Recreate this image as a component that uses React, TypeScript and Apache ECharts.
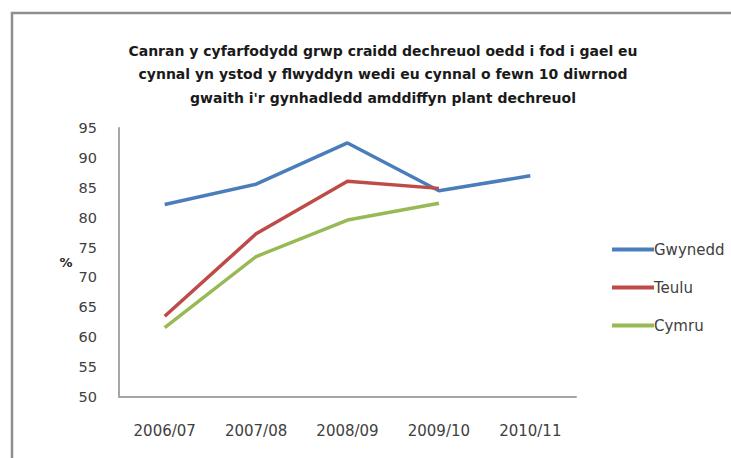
import React, { useEffect, useRef } from "react";
import * as echarts from "echarts";

const categories = ["2006/07", "2007/08", "2008/09", "2009/10", "2010/11"];
const gwynedd = [82.2, 85.6, 92.5, 84.5, 87.0];
const teulu = [63.5, 77.3, 86.1, 84.9, null];
const cymru = [61.6, 73.5, 79.6, 82.4, null];
const yTicks = { min: 50, max: 95, interval: 5 };
const titleText =
  "Canran y cyfarfodydd grwp craidd dechreuol oedd i fod i gael eu\ncynnal yn ystod y flwyddyn wedi eu cynnal o fewn 10 diwrnod\ngwaith i'r gynhadledd amddiffyn plant dechreuol";

const FONT = "DejaVu Sans";

export default function App() {
  const ref = useRef<HTMLDivElement>(null);
  useEffect(() => {
    if (!ref.current) return;
    const chart = echarts.init(ref.current, undefined, { renderer: "svg" });
    chart.setOption({
      animation: false,
      backgroundColor: "#ffffff",
      textStyle: { fontFamily: FONT },
      graphic: [
        {
          type: "rect",
          shape: { x: 12, y: 13, width: 900, height: 600 },
          style: { fill: "none", stroke: "#8f8f8f", lineWidth: 2.5 },
          silent: true,
        },
      ],
      title: {
        text: titleText,
        left: 378,
        textAlign: "center",
        top: 34,
        textStyle: {
          fontFamily: FONT,
          fontSize: 14,
          fontWeight: "bold",
          color: "#1a1a1a",
          lineHeight: 23.5,
        },
      },
      legend: {
        orient: "vertical",
        left: 607,
        top: 237,
        itemWidth: 42,
        itemHeight: 4,
        itemGap: 23,
        icon: "rect",
        textStyle: { fontFamily: FONT, fontSize: 15, color: "#404040", padding: [0, 0, 0, -5] },
        data: ["Gwynedd", "Teulu", "Cymru"],
      },
      grid: { left: 119, top: 128, width: 457, height: 269 },
      xAxis: {
        type: "category",
        data: categories,
        boundaryGap: true,
        axisLine: { lineStyle: { color: "#a6a6a6", width: 2 } },
        axisTick: { show: false },
        axisLabel: { color: "#404040", fontSize: 15, margin: 26, fontFamily: FONT },
      },
      yAxis: {
        type: "value",
        min: yTicks.min,
        max: yTicks.max,
        interval: yTicks.interval,
        name: "%",
        nameLocation: "middle",
        nameRotate: 0,
        nameGap: 45,
        nameTextStyle: { fontFamily: FONT, fontSize: 13, fontWeight: "bold", color: "#262626" },
        axisLine: { show: true, lineStyle: { color: "#a6a6a6", width: 2 } },
        axisTick: { show: false },
        splitLine: { show: false },
        axisLabel: { color: "#404040", fontSize: 14.5, margin: 22, fontFamily: FONT },
      },
      series: [
        {
          name: "Gwynedd",
          type: "line",
          data: gwynedd,
          symbol: "none",
          lineStyle: { color: "#4a7ebb", width: 3.5 },
          itemStyle: { color: "#4a7ebb" },
        },
        {
          name: "Teulu",
          type: "line",
          data: teulu,
          symbol: "none",
          lineStyle: { color: "#be4b48", width: 3.5 },
          itemStyle: { color: "#be4b48" },
        },
        {
          name: "Cymru",
          type: "line",
          data: cymru,
          symbol: "none",
          lineStyle: { color: "#98b954", width: 3.5 },
          itemStyle: { color: "#98b954" },
        },
      ],
    });
    return () => chart.dispose();
  }, []);
  return (
    <div
      ref={ref}
      style={{ position: "absolute", left: 0, top: 0, width: 731, height: 458 }}
    />
  );
}
